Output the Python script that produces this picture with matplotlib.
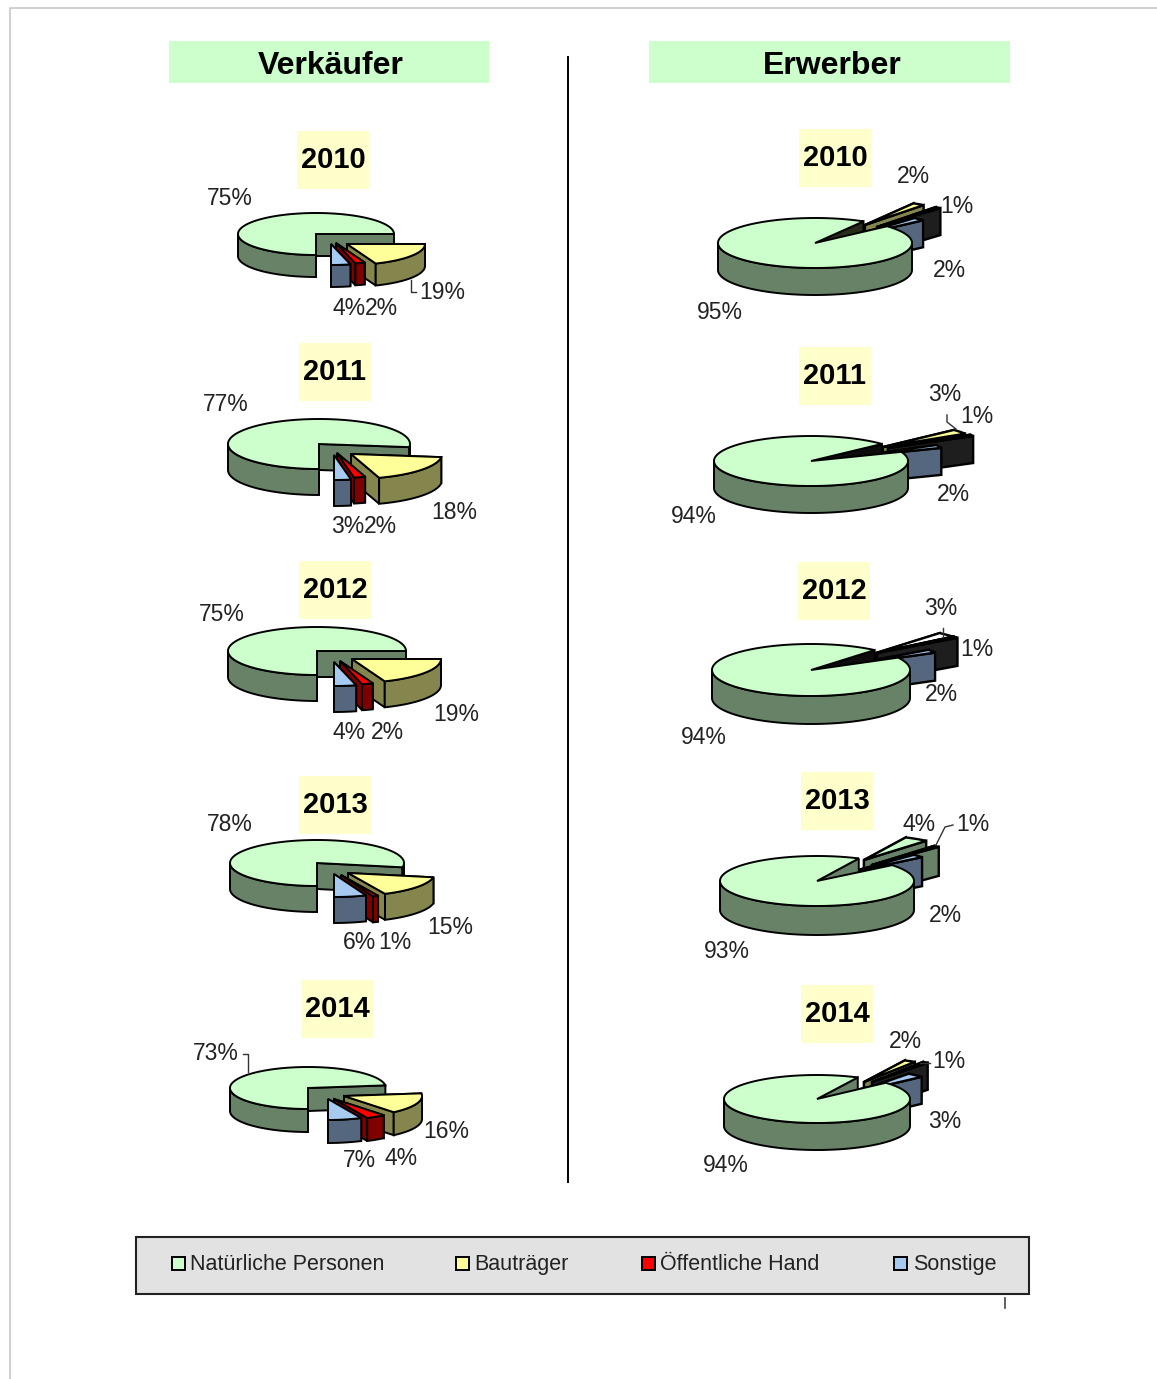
import math
import matplotlib
matplotlib.use('Agg')
import matplotlib.pyplot as plt
from matplotlib.patches import Polygon, Rectangle

plt.rcParams['font.family'] = ['Liberation Sans', 'DejaVu Sans']

years = [2010, 2011, 2012, 2013, 2014]
categories = ['Natürliche Personen', 'Bauträger', 'Öffentliche Hand', 'Sonstige']

# shares per year, in percent
seller_natural = [75, 77, 75, 78, 73]
seller_builder = [19, 18, 19, 15, 16]
seller_public = [2, 2, 2, 1, 4]
seller_other = [4, 3, 4, 6, 7]

buyer_natural = [95, 94, 94, 93, 94]
buyer_builder = [2, 3, 3, 4, 2]
buyer_public = [1, 1, 1, 1, 1]
buyer_other = [2, 2, 2, 2, 3]

# (top, side) colours
GREEN = ('#CCFFCC', '#678267')
YELLOW = ('#FFFF99', '#85854E')
RED = ('#FF0000', '#800000')
BLUE = ('#A6CAF0', '#55677F')
BLACK = ('#111111', '#1E1E1E')
WHITE = ('#FFFFFF', '#808080')
GREEN_DARK = ('#CCFFCC', '#262B1C')
GREEN_BLACK = ('#CCFFCC', '#0C0C0C')

# pie geometry: cx, cy, rx, ry, depth
seller_geo = [(316, 234, 78, 21, 22), (319, 444, 91, 25, 26), (317, 651, 89, 24, 26),
              (317, 863, 87, 23, 26), (308, 1088, 78, 21, 23)]
buyer_geo = [(815, 243, 97, 25, 27), (811, 461, 97, 25, 27), (811, 670, 99, 26, 28),
             (817, 881, 97, 25, 29), (817, 1099, 93, 24, 27)]

# where the first slice starts, clockwise from 12 o'clock
seller_start = [180, 180, 180, 180, 180]
buyer_start = [48, 68.6, 61.6, 50.7, 47.6]

# explosion offsets per slice, natural / builder / public / other
seller_off = [[(0, 0), (31, 10), (20, 9), (15, 10)],
              [(0, 0), (32, 10), (18, 9), (15, 11)],
              [(0, 0), (35, 8), (23, 10), (17, 11)],
              [(0, 0), (31, 10), (24, 12), (17, 11)],
              [(0, 0), (36, 8), (26, 11), (20, 11)]]
buyer_off = [[(0, 0), (50, -18), (62, -16), (36, -6)],
             [(0, 0), (72, -14), (77, -13), (40, -4)],
             [(0, 0), (65, -17), (66, -17), (37, -5)],
             [(0, 0), (47, -21), (55, -16), (30, -8)],
             [(0, 0), (47, -17), (55, -17), (36, -6)]]

# label centres per slice
seller_lab = [[(230, 197), (442, 291), (381, 307), (349, 307)],
              [(226, 403), (454, 511), (380, 525), (348, 525)],
              [(222, 613), (456, 713), (387, 731), (349, 731)],
              [(230, 823), (450, 926), (395, 941), (360, 941)],
              [(216, 1052), (446, 1130), (401, 1157), (359, 1159)]]
buyer_lab = [[(720, 311), (913, 175), (957, 205), (949, 269)],
             [(694, 515), (945, 393), (977, 415), (953, 493)],
             [(704, 736), (941, 607), (977, 648), (941, 693)],
             [(727, 950), (919, 823), (973, 823), (945, 914)],
             [(726, 1164), (905, 1040), (949, 1060), (945, 1120)]]

seller_boxes = [(297, 131), (299, 343), (299, 561), (299, 776), (301, 980)]
buyer_boxes = [(799, 129), (799, 347), (798, 562), (801, 772), (801, 985)]

buyer_natural_col = [GREEN_DARK, GREEN_BLACK, GREEN_BLACK, GREEN, GREEN]
buyer_builder_col = [YELLOW, YELLOW, WHITE, GREEN, YELLOW]
buyer_public_col = [BLACK, BLACK, BLACK, GREEN, BLACK]

# slice draw order, back to front
seller_order = [0, 1, 2, 3]
buyer_order = [1, 2, 3, 0]

leaders = [[(411, 280), (411, 292), (416, 292)],
           [(243, 1054), (248, 1054), (248, 1072)],
           [(947, 415), (947, 422), (956, 429)],
           [(943, 628), (943, 637)],
           [(953, 825), (945, 827), (936, 845)],
           [(920, 1063), (930, 1063)]]

fig = plt.figure(figsize=(11.57, 13.79), dpi=100)
ax = fig.add_axes([0, 0, 1, 1])
ax.set_xlim(0, 1157)
ax.set_ylim(1379, 0)
ax.axis('off')

LW = 1.4
LW_SMALL = 1.7


def rim_point(cx, cy, rx, ry, a):
    r = math.radians(a)
    return (cx + rx * math.sin(r), cy - ry * math.cos(r))


def arc(cx, cy, rx, ry, a0, a1):
    n = max(2, int(abs(a1 - a0)) + 2)
    return [rim_point(cx, cy, rx, ry, a0 + (a1 - a0) * i / (n - 1)) for i in range(n)]


def draw_slice(geo, a0, a1, off, col, lw):
    cx, cy, rx, ry, d = geo
    cx += off[0]
    cy += off[1]
    top, side = col
    # cut faces first, the top covers whatever should be hidden
    for a in (a0, a1):
        p = rim_point(cx, cy, rx, ry, a)
        ax.add_patch(Polygon([(cx, cy), p, (p[0], p[1] + d), (cx, cy + d)],
                             facecolor=side, edgecolor='black', linewidth=lw))
    # outer wall, front half only
    rim_col = GREEN[1] if top == GREEN[0] else side
    for k in (0, 360):
        lo = max(a0, 90 + k)
        hi = min(a1, 270 + k)
        if hi > lo:
            pts = arc(cx, cy, rx, ry, lo, hi)
            low = [(x, y + d) for x, y in reversed(pts)]
            ax.add_patch(Polygon(pts + low, facecolor=rim_col, edgecolor='black', linewidth=lw))
    ax.add_patch(Polygon([(cx, cy)] + arc(cx, cy, rx, ry, a0, a1),
                         facecolor=top, edgecolor='black', linewidth=lw))


def draw_pie(values, start, geo, offsets, colors, label_pos, order, small_lw):
    spans = []
    a = start
    for v in values:
        spans.append((a, a + v * 3.6))
        a += v * 3.6
    for i in order:
        draw_slice(geo, spans[i][0], spans[i][1], offsets[i], colors[i],
                   LW if i == 0 else small_lw)
    for v, (x, y) in zip(values, label_pos):
        ax.text(x, y + 8, f'{v}%', fontsize=16.5, color='#222222', ha='center', va='baseline')


def year_box(x, y, year):
    ax.add_patch(Rectangle((x, y), 72, 58, facecolor='#FFFFCC', edgecolor='none'))
    ax.text(x + 36, y + 37, str(year), fontsize=21, fontweight='bold', ha='center', va='baseline')


# page border
ax.plot([10, 10, 1157], [1379, 8, 8], color='#C8C8C8', linewidth=1.2)

# column headers and divider
ax.add_patch(Rectangle((169, 41), 320, 42, facecolor='#CCFFCC', edgecolor='none'))
ax.add_patch(Rectangle((649, 41), 361, 42, facecolor='#CCFFCC', edgecolor='none'))
ax.text(331, 74, 'Verkäufer', fontsize=23, fontweight='bold', ha='center', va='baseline')
ax.text(832, 74, 'Erwerber', fontsize=23, fontweight='bold', ha='center', va='baseline')
ax.plot([568, 568], [57, 1182], color='black', linewidth=1.4)

for i, year in enumerate(years):
    year_box(*seller_boxes[i], year)
    year_box(*buyer_boxes[i], year)
    draw_pie([seller_natural[i], seller_builder[i], seller_public[i], seller_other[i]],
             seller_start[i], seller_geo[i], seller_off[i],
             [GREEN, YELLOW, RED, BLUE], seller_lab[i], seller_order, LW)
    draw_pie([buyer_natural[i], buyer_builder[i], buyer_public[i], buyer_other[i]],
             buyer_start[i], buyer_geo[i], buyer_off[i],
             [buyer_natural_col[i], buyer_builder_col[i], buyer_public_col[i], BLUE],
             buyer_lab[i], buyer_order, LW_SMALL)

for line in leaders:
    ax.plot([p[0] for p in line], [p[1] for p in line], color='#333333', linewidth=1.0)

# legend
ax.add_patch(Rectangle((136, 1237), 893, 57, facecolor='#E2E2E2', edgecolor='#222222', linewidth=1.5))
swatch_x = [172, 456, 642, 894]
text_x = [190, 474, 660, 913]
for name, col, sx, tx in zip(categories, [GREEN, YELLOW, RED, BLUE], swatch_x, text_x):
    ax.add_patch(Rectangle((sx, 1257), 13, 13, facecolor=col[0], edgecolor='black', linewidth=LW))
    ax.text(tx, 1270, name, fontsize=15.5, color='#222222', ha='left', va='baseline')
ax.plot([1005, 1005], [1298, 1308], color='#444444', linewidth=1.2)

fig.savefig('out.png', dpi=100)
